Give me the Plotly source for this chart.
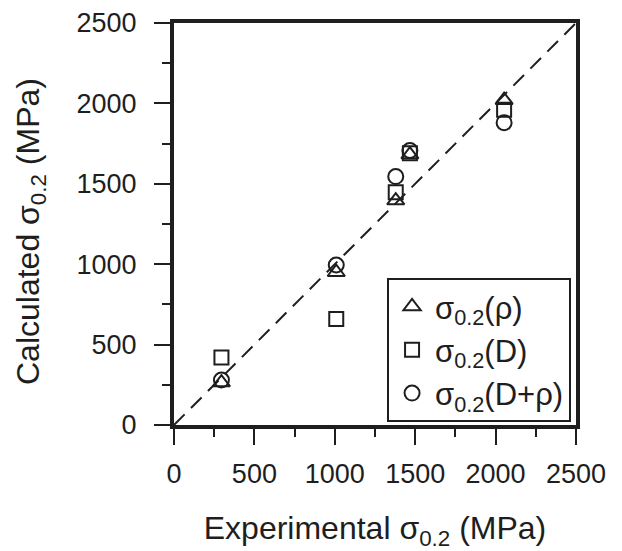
import plotly.graph_objects as go

exp_x = [295, 1009, 1379, 1467, 2053]
calc_rho = [264, 950, 1396, 1682, 2020]
calc_D = [419, 659, 1447, 1690, 1960]
calc_Drho = [280, 995, 1545, 1707, 1880]
ref_line = [0, 2500]
ticks = [0, 500, 1000, 1500, 2000, 2500]

ink = "#1e1e1e"
font = "Liberation Sans, Arial, sans-serif"

fig = go.Figure()
fig.add_trace(go.Scatter(x=ref_line, y=ref_line, mode="lines", showlegend=False,
                         line=dict(color=ink, width=2, dash="15px,9px")))
series = [
    ("σ<sub>0.2</sub>(ρ)", calc_rho, "triangle-up-open", 15),
    ("σ<sub>0.2</sub>(D)", calc_D, "square-open", 14),
    ("σ<sub>0.2</sub>(D+ρ)", calc_Drho, "circle-open", 15),
]
for name, ys, sym, sz in series:
    fig.add_trace(go.Scatter(x=exp_x, y=ys, mode="markers", name=name,
                             marker=dict(symbol=sym, size=sz, color=ink,
                                         line=dict(color=ink, width=2))))

axis_common = dict(
    range=[0, 2500], tickvals=ticks, ticks="outside", ticklen=16, tickwidth=2,
    tickcolor=ink, showline=True, linewidth=4, linecolor=ink, mirror=True,
    showgrid=False, zeroline=False, tickfont=dict(family=font, size=27, color=ink),
    minor=dict(dtick=250, ticks="outside", ticklen=8, tickwidth=2, tickcolor=ink),
    automargin=False,
)

# page body adds an 8px offset, so the figure is 8px smaller on each axis
fig.update_layout(
    width=614, height=543,
    margin=dict(l=166, r=46, t=15, b=126),
    paper_bgcolor="white", plot_bgcolor="white",
    font=dict(family=font, color=ink),
    xaxis=dict(title=dict(text="Experimental σ<sub>0.2</sub> (MPa)",
                          font=dict(family=font, size=32, color=ink), standoff=32),
               ticklabelstandoff=6, **axis_common),
    yaxis=dict(ticklabelstandoff=12, **axis_common),
    legend=dict(x=0.53, y=0.008, xanchor="left", yanchor="bottom",
                bordercolor=ink, borderwidth=2, bgcolor="white",
                font=dict(family=font, size=31, color=ink),
                itemwidth=36, tracegroupgap=0),
    annotations=[dict(text="Calculated σ<sub>0.2</sub> (MPa)", textangle=-90,
                      xref="paper", yref="paper", x=0, y=0.5,
                      xanchor="center", yanchor="middle", xshift=-144, yshift=-8,
                      showarrow=False,
                      font=dict(family=font, size=32, color=ink))],
)

fig.write_html("out.html")
